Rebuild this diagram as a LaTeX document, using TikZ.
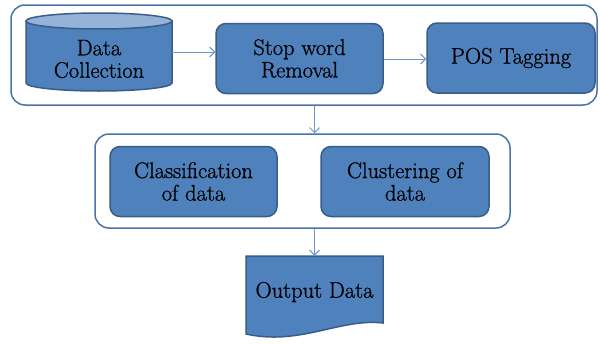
\documentclass[tikz,border=0pt]{standalone}
\usepackage{fontspec}
\newfontfamily\lbl{Latin Modern Roman}[FakeBold=0.9]
\usetikzlibrary{arrows.meta}
\definecolor{boxfill}{HTML}{4F81BD}
\definecolor{boxline}{HTML}{385D8A}
\definecolor{toplight}{HTML}{95B3D7}
\definecolor{frameline}{HTML}{4A74A8}
\definecolor{arrowc}{HTML}{6E97CB}
\begin{document}
\begin{tikzpicture}[x=1pt,y=-1pt,
  frame/.style={draw=frameline,line width=1.5pt,rounded corners=14pt,fill=white},
  procbox/.style={draw=boxline,fill=boxfill,line width=1.5pt,rounded corners=10pt,
    minimum width=167pt,minimum height=70pt,align=center,inner sep=0pt,
    font=\lbl\fontsize{22.5}{22.5}\selectfont},
  ghost/.style={inner sep=0pt,align=center,font=\lbl\fontsize{22.5}{22.5}\selectfont},
  flow/.style={draw=arrowc,line width=1pt,-{Straight Barb[length=5pt,width=10pt]}}]
\useasboundingbox (0,0) rectangle (600,343);
% frames
\node[frame,minimum width=586pt,minimum height=100pt,inner sep=0pt] (top) at (304,55) {};
\node[frame,minimum width=415pt,minimum height=94pt,inner sep=0pt] (mid) at (302.5,181) {};
% cylinder
\fill[boxfill,draw=boxline,line width=1.5pt] (26,21) -- (26,83) arc[start angle=180,end angle=360,x radius=73,y radius=-8] -- (172,21) -- cycle;
\draw[boxline,line width=1.5pt,fill=toplight] (99,21) ellipse[x radius=73,y radius=8];
\node[ghost,minimum width=146pt,minimum height=77pt] (dc) at (99,52.5) {};
\node[ghost] (dctext) at (99,59) {Data\\Collection};
% process boxes
\node[procbox] (sw) at (299.5,58.5) {Stop word\\Removal};
\node[procbox,minimum width=168pt] (pos) at (511,58) {POS Tagging};
\node[procbox] (cls) at (193.5,181.5) {Classification\\of data};
\node[procbox,minimum width=168pt] (clu) at (405,181.5) {Clustering of\\data};
% output document
\fill[boxfill,draw=boxline,line width=1.5pt] (246,256) -- (383,256) -- (383,323)
  .. controls (340,318) and (300,346) .. (246,334) -- cycle;
\node[ghost,minimum width=137pt,minimum height=67pt] (out) at (314.5,289.5) {};
\node[ghost] (outtext) at (314.5,292) {Output Data};
% connectors
\draw[flow] (dc.east |- 0,52) -- (sw.west |- 0,52);
\draw[flow] (sw.east |- 0,59) -- (pos.west |- 0,59);
\draw[flow] (top.south -| out.north) -- (mid.north -| out.north);
\draw[flow] (mid.south -| out.north) -- (out.north);
\end{tikzpicture}
\end{document}
